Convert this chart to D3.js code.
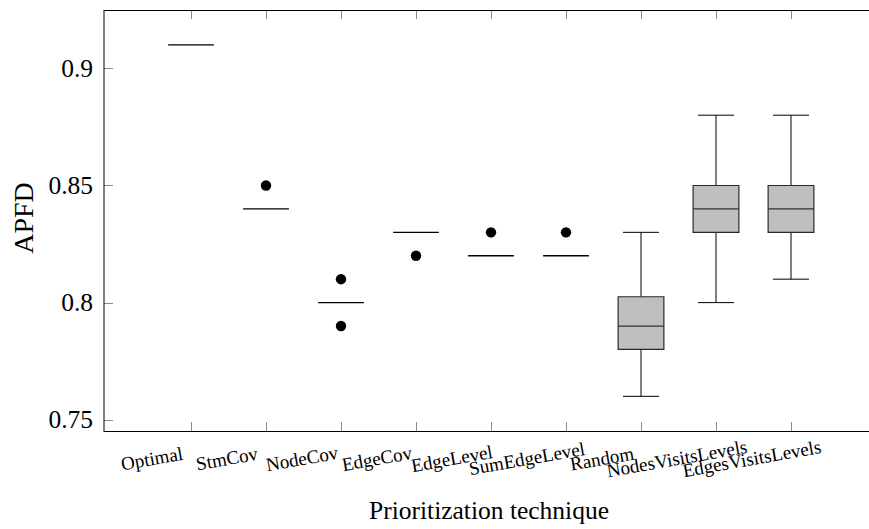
<!DOCTYPE html>
<html>
<head>
<meta charset="utf-8">
<script src="https://cdn.jsdelivr.net/npm/d3@7"></script>
<style>
  body { margin: 0; background: #fff; }
</style>
</head>
<body>
<script>
// Chart data
const techniques = ["Optimal", "StmCov", "NodeCov", "EdgeCov", "EdgeLevel",
  "SumEdgeLevel", "Random", "NodesVisitsLevels", "EdgesVisitsLevels"]
const lowWhisker = [0.91, 0.84, 0.80, 0.83, 0.82, 0.82, 0.76, 0.80, 0.81]
const lowerQuartile = [0.91, 0.84, 0.80, 0.83, 0.82, 0.82, 0.78, 0.83, 0.83]
const medians = [0.91, 0.84, 0.80, 0.83, 0.82, 0.82, 0.79, 0.84, 0.84]
const upperQuartile = [0.91, 0.84, 0.80, 0.83, 0.82, 0.82, 0.8025, 0.85, 0.85]
const highWhisker = [0.91, 0.84, 0.80, 0.83, 0.82, 0.82, 0.83, 0.88, 0.88]
const outliers = [[], [0.85], [0.81, 0.79], [0.82], [0.83], [0.83], [], [], []]
const yTicks = [0.75, 0.8, 0.85, 0.9]

// Sizes
const width = 869
const height = 529
const plot = {left: 104, right: 878, top: 10, bottom: 431}
const boxHalf = 0.305
const capHalf = 0.24
const tickLen = 9
const serif = "'Liberation Serif', 'DejaVu Serif', serif"

const svg = d3.select("body").append("svg")
  .attr("width", width)
  .attr("height", height)
  .attr("font-family", serif)

const x = d3.scaleLinear()
  .domain([-0.16, 10.16])
  .range([plot.left, plot.right])

const y = d3.scaleLinear()
  .domain([0.7452, 0.9249])
  .range([plot.bottom, plot.top])

const pos = techniques.map((d, i) => i + 1)

// ticks (inward, all four sides)
const tickG = svg.append("g").attr("stroke", "#8c8c8c").attr("stroke-width", 1)
pos.forEach(p => {
  const px = Math.round(x(p)) + 0.5
  tickG.append("line").attr("x1", px).attr("x2", px)
    .attr("y1", plot.bottom).attr("y2", plot.bottom - tickLen)
  tickG.append("line").attr("x1", px).attr("x2", px)
    .attr("y1", plot.top).attr("y2", plot.top + tickLen)
})
yTicks.forEach(t => {
  const py = Math.round(y(t)) + 0.5
  tickG.append("line").attr("x1", plot.left).attr("x2", plot.left + tickLen)
    .attr("y1", py).attr("y2", py)
  tickG.append("line").attr("x1", plot.right).attr("x2", plot.right - tickLen)
    .attr("y1", py).attr("y2", py)
})

// whiskers
const g = svg.append("g")
pos.forEach((p, i) => {
  if (lowWhisker[i] < lowerQuartile[i]) {
    g.append("line").attr("x1", x(p)).attr("x2", x(p))
      .attr("y1", y(lowWhisker[i])).attr("y2", y(lowerQuartile[i]))
      .attr("stroke", "#000").attr("stroke-width", 1)
    g.append("line").attr("x1", x(p - capHalf)).attr("x2", x(p + capHalf))
      .attr("y1", y(lowWhisker[i])).attr("y2", y(lowWhisker[i]))
      .attr("stroke", "#000").attr("stroke-width", 1)
  }
  if (highWhisker[i] > upperQuartile[i]) {
    g.append("line").attr("x1", x(p)).attr("x2", x(p))
      .attr("y1", y(highWhisker[i])).attr("y2", y(upperQuartile[i]))
      .attr("stroke", "#000").attr("stroke-width", 1)
    g.append("line").attr("x1", x(p - capHalf)).attr("x2", x(p + capHalf))
      .attr("y1", y(highWhisker[i])).attr("y2", y(highWhisker[i]))
      .attr("stroke", "#000").attr("stroke-width", 1)
  }
})

// boxes (path so a flat box still shows as a line)
g.selectAll("path.box").data(pos)
  .enter().append("path")
  .attr("class", "box")
  .attr("d", (p, i) => {
    const x0 = x(p - boxHalf), x1 = x(p + boxHalf)
    const y0 = y(upperQuartile[i]), y1 = y(lowerQuartile[i])
    return `M${x0},${y0}H${x1}V${y1}H${x0}Z`
  })
  .attr("fill", "#bfbfbf")
  .attr("stroke", (p, i) => upperQuartile[i] > lowerQuartile[i] ? "#2b2b2b" : "#000")
  .attr("stroke-width", (p, i) => upperQuartile[i] > lowerQuartile[i] ? 1.2 : 1.3)

// medians
pos.forEach((p, i) => {
  if (upperQuartile[i] > lowerQuartile[i]) {
    g.append("line").attr("x1", x(p - boxHalf)).attr("x2", x(p + boxHalf))
      .attr("y1", y(medians[i])).attr("y2", y(medians[i]))
      .attr("stroke", "#333").attr("stroke-width", 1.2)
  }
})

// outliers
pos.forEach((p, i) => {
  outliers[i].forEach(v => {
    g.append("circle").attr("cx", x(p)).attr("cy", y(v)).attr("r", 5.2).attr("fill", "#000")
  })
})

// frame
svg.append("rect")
  .attr("x", plot.left).attr("y", plot.top + 0.5)
  .attr("width", plot.right - plot.left).attr("height", plot.bottom - plot.top)
  .attr("fill", "none").attr("stroke", "#000").attr("stroke-width", 1)

// y tick labels
svg.selectAll("text.ytick").data(yTicks)
  .enter().append("text")
  .attr("class", "ytick")
  .attr("x", plot.left - 11)
  .attr("y", d => y(d))
  .attr("dy", "0.34em")
  .attr("text-anchor", "end")
  .attr("font-family", serif)
  .style("font-size", "25.5px")
  .text(d => d)

// x tick labels, rotated
svg.selectAll("text.xtick").data(pos)
  .enter().append("text")
  .attr("class", "xtick")
  .attr("text-anchor", "middle")
  .attr("font-family", serif)
  .attr("transform", p => `translate(${x(p) - 38},465) rotate(-10)`)
  .style("font-size", "19px")
  .text((p, i) => techniques[i])

// axis labels
svg.append("text")
  .attr("x", 489).attr("y", 519)
  .attr("text-anchor", "middle")
  .attr("font-family", serif)
  .style("font-size", "25.5px")
  .text("Prioritization technique")

svg.append("text")
  .attr("transform", `translate(33,218) rotate(-90)`)
  .attr("text-anchor", "middle")
  .attr("font-family", serif)
  .style("font-size", "28px")
  .text("APFD")
</script>
</body>
</html>
